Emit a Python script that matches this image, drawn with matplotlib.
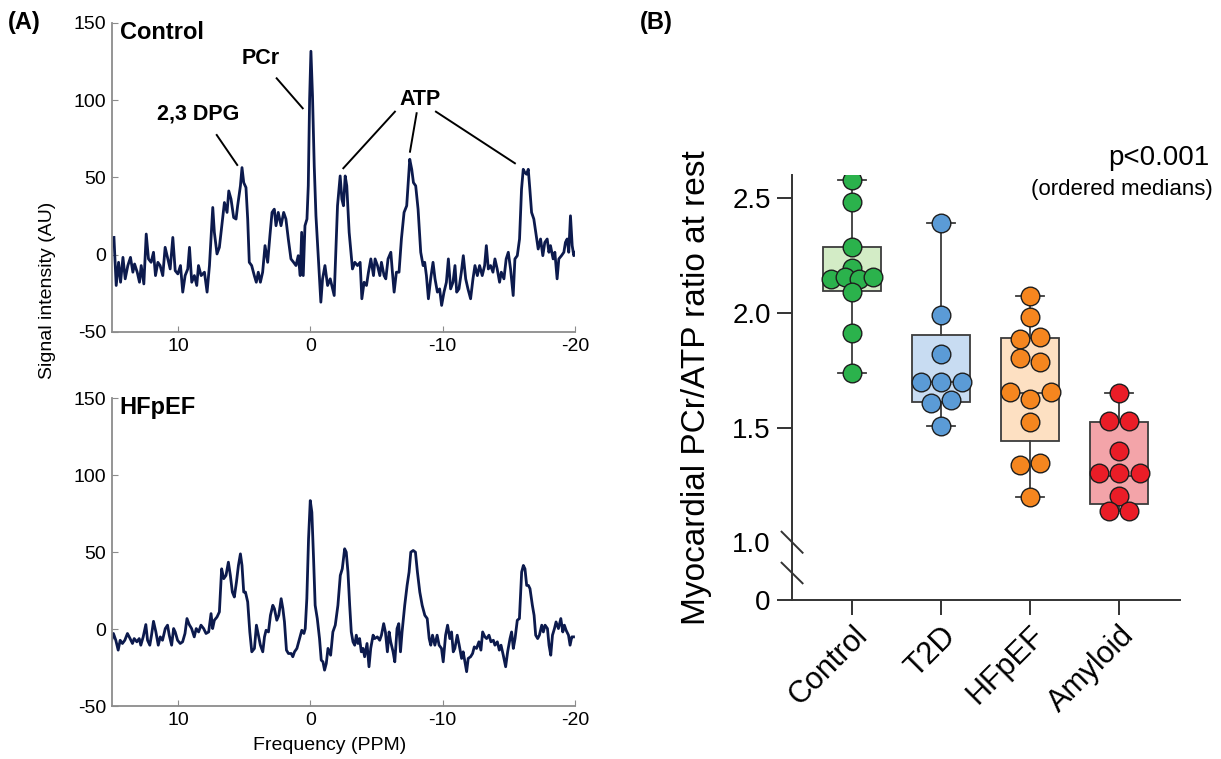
import numpy as np
import matplotlib.pyplot as plt

plt.rcParams['font.family'] = ['Liberation Sans', 'DejaVu Sans']
plt.rcParams['axes.unicode_minus'] = False

# ---- (A) 31P spectra ----
ctrl_ppm = [14.85, 14.68, 14.50, 14.35, 14.17, 14.00, 13.80, 13.60, 13.42, 13.29,
            13.09, 12.92, 12.79, 12.59, 12.41, 12.24, 12.04, 11.86, 11.71, 11.53,
            11.36, 11.16, 10.98, 10.78, 10.60, 10.40, 10.22, 10.02, 9.82, 9.65,
            9.47, 9.27, 9.14, 8.97, 8.77, 8.59, 8.46, 8.26, 8.01, 7.81,
            7.63, 7.38, 7.26, 7.06, 6.88, 6.70, 6.50, 6.30, 6.17, 6.00,
            5.80, 5.62, 5.50, 5.29, 5.17, 5.04, 4.87, 4.74, 4.62, 4.44,
            4.24, 4.09, 3.94, 3.78, 3.61, 3.43, 3.23, 3.06, 2.90, 2.73,
            2.60, 2.43, 2.22, 2.02, 1.85, 1.67, 1.47, 1.27, 1.09, 0.92,
            0.77, 0.66, 0.54, 0.41, 0.26, 0.16, 0.06, -0.04, -0.16, -0.29,
            -0.42, -0.59, -0.79, -0.92, -1.10, -1.30, -1.50,
            -1.80, -2.05, -2.25, -2.38, -2.50, -2.63, -2.75, -2.93, -3.18, -3.36,
            -3.56, -3.76, -3.89, -4.06, -4.24, -4.39, -4.57, -4.77, -4.89, -5.07,
            -5.25, -5.37, -5.57, -5.70, -5.87, -6.08, -6.20, -6.33, -6.50, -6.70,
            -6.88, -7.08, -7.28, -7.41, -7.51, -7.66, -7.79, -7.96, -8.14, -8.34,
            -8.52, -8.64, -8.77, -8.92, -9.09, -9.27, -9.42, -9.60, -9.77, -9.92,
            -10.10, -10.28, -10.43, -10.60, -10.78, -10.93, -11.06, -11.23, -11.41, -11.56,
            -11.74, -11.91, -12.11, -12.29, -12.44, -12.62, -12.79, -12.99, -13.17, -13.30,
            -13.45, -13.62, -13.80, -13.95, -14.12, -14.30, -14.43, -14.63, -14.80, -14.96,
            -15.13, -15.33, -15.46, -15.64, -15.81, -15.96, -16.09, -16.21, -16.34, -16.47,
            -16.59, -16.72, -16.89, -17.07, -17.22, -17.40, -17.57, -17.72, -17.90, -18.03,
            -18.15, -18.35, -18.48, -18.65, -18.78, -18.98, -19.16, -19.28, -19.41, -19.53,
            -19.66, -19.79, -19.91, -20.04]
ctrl_au = [11.2, -19.9, -4.9, -17.8, -1.7, -15.6, -7.0, -1.7, -11.3, -6.0,
           -11.3, -17.8, -7.0, -18.9, 13.4, -2.7, -4.9, 1.6, -13.5, -4.9,
           -7.0, -13.5, 4.8, -2.7, -9.2, 11.2, -10.3, -12.4, -7.0, -24.2,
           -13.5, -9.2, 4.8, -17.8, -13.5, -19.9, -7.0, -13.5, -11.3, -24.2,
           -7.0, 30.6, 14.5, 0.5, 4.8, 18.8, 33.8, 27.4, 41.3, 36.0,
           24.1, 23.1, 31.7, 44.6, 56.4, 46.7, 43.5, 23.1, -4.9, -7.0,
           -13.5, -17.8, -11.3, -17.8, -11.3, 5.9, -4.9, 12.3, 27.4, 29.5,
           18.8, 27.4, 18.8, 27.4, 23.1, 10.2, -2.7, -4.9, -7.0, -0.6,
           -13.5, 14.5, -13.5, 18.8, 23.1, 44.6, 100.5, 131.7, 102.6, 57.5,
           25.2, -0.6, -30.7, -15.6, -7.0, -19.9, -15.6,
           -26.4, 31.7, 51.0, 36.0, 31.7, 51.0, 44.6, 14.5, -9.2, -4.9,
           -7.0, -4.9, -28.5, -17.8, -19.9, -11.3, -2.7, -13.5, -2.7, -7.0,
           -13.5, -4.9, -13.5, -15.6, -2.7, 1.6, -11.3, -24.2, -11.3, -11.3,
           10.2, 27.4, 31.7, 48.9, 61.8, 55.3, 46.7, 44.6, 29.5, 1.6,
           -7.0, -4.9, -13.5, -28.5, -15.6, -4.9, -15.6, -24.2, -22.1, -32.8,
           -24.2, -17.8, -2.7, -22.1, -17.8, -7.0, -24.2, -22.1, -11.3, -0.6,
           -15.6, -22.1, -28.5, -15.6, -7.0, -13.5, -7.0, -13.5, -7.0, 5.9,
           -9.2, -7.0, -11.3, -2.7, -9.2, -17.8, -11.3, -15.6, -2.7, 1.6,
           -9.2, -26.4, -2.7, -0.6, 10.2, 42.4, 55.3, 53.2, 52.1, 55.3,
           42.4, 27.4, 23.1, 12.3, 3.7, 10.2, -0.6, 8.0, 10.2, 1.6,
           5.9, -2.7, 1.6, -15.6, -2.7, -0.6, 1.6, 8.0, 10.2, 1.6,
           25.2, 5.9, -0.6, 1.6]

hfpef_ppm = [15.09, 14.89, 14.71, 14.53, 14.38, 14.21, 14.03, 13.83, 13.63, 13.45,
             13.32, 13.12, 12.94, 12.82, 12.64, 12.44, 12.31, 12.14, 12.01, 11.86,
             11.68, 11.50, 11.35, 11.18, 10.97, 10.80, 10.67, 10.49, 10.34, 10.22,
             10.04, 9.84, 9.66, 9.48, 9.33, 9.16, 8.98, 8.78, 8.63, 8.45,
             8.27, 8.07, 7.89, 7.69, 7.51, 7.39, 7.26, 7.06, 6.88, 6.71,
             6.55, 6.38, 6.20, 6.05, 5.90, 5.75, 5.59, 5.44, 5.29, 5.17,
             5.04, 4.91, 4.74, 4.58, 4.43, 4.23, 4.08, 3.98, 3.78, 3.60,
             3.47, 3.35, 3.17, 3.02, 2.84, 2.72, 2.54, 2.39, 2.21, 2.08,
             1.96, 1.81, 1.66, 1.45, 1.33, 1.20, 1.02, 0.82, 0.65, 0.49,
             0.39, 0.27, 0.14, 0.01, -0.11, -0.24, -0.36, -0.52, -0.69, -0.82,
             -0.95, -1.07, -1.20,
             -1.33, -1.53, -1.70, -1.88, -2.08, -2.26, -2.41, -2.59, -2.71, -2.84,
             -2.97, -3.09, -3.22, -3.35, -3.47, -3.60, -3.72, -3.85, -3.98, -4.10,
             -4.28, -4.43, -4.56, -4.74, -4.86, -5.06, -5.24, -5.37, -5.54, -5.67,
             -5.82, -5.95, -6.07, -6.25, -6.38, -6.55, -6.68, -6.81, -6.93, -7.13,
             -7.31, -7.46, -7.59, -7.77, -7.94, -8.09, -8.27, -8.45, -8.65, -8.83,
             -8.98, -9.10, -9.23, -9.41, -9.58, -9.73, -9.91, -10.04, -10.22, -10.37,
             -10.54, -10.67, -10.80, -10.92, -11.10, -11.25, -11.43, -11.55, -11.68, -11.81,
             -11.93, -12.11, -12.26, -12.39, -12.56, -12.74, -12.89, -13.02, -13.19, -13.32,
             -13.50, -13.65, -13.83, -13.95, -14.13, -14.28, -14.41, -14.58, -14.76, -14.91,
             -15.09, -15.21, -15.34, -15.47, -15.64, -15.80, -15.97, -16.10, -16.22, -16.35,
             -16.48, -16.60, -16.78, -16.91, -17.03, -17.18, -17.31, -17.49, -17.61, -17.74,
             -17.92, -18.04, -18.17, -18.30, -18.45, -18.57, -18.75, -18.93, -19.08, -19.20,
             -19.33, -19.51, -19.63, -19.76, -19.89]
hfpef_au = [-9.4, -2.9, -7.3, -13.7, -7.3, -9.4, -7.3, -2.9, -6.2, -9.4,
            -6.2, -8.3, -6.2, -10.5, -5.1, 2.9, -7.3, -10.5, -4.0, 5.0,
            -1.9, -10.5, -5.1, -7.3, 0.3, 2.5, -4.0, -10.5, 0.3, -1.9,
            -7.3, -9.4, -8.3, -2.9, 6.8, 2.9, 0.3, -5.1, 0.3, -1.9,
            2.5, 0.3, -2.9, -1.9, 10.0, 0.3, 5.7, 7.8, 11.1, 39.1,
            32.7, 34.8, 43.4, 34.8, 24.0, 20.8, 30.5, 41.3, 48.8, 41.3,
            24.0, 24.0, 17.6, -1.9, -14.8, -12.6, 2.5, -1.9, -10.5, -14.8,
            -5.1, -0.8, -1.9, 8.9, 15.4, 13.2, 5.7, 8.9, 19.7, 13.2,
            4.6, -13.7, -15.9, -15.9, -18.0, -14.8, -12.6, -6.2, -0.8, -2.9,
            0.3, 19.7, 58.6, 83.4, 75.8, 45.6, 15.4, 6.8, -6.2, -20.2,
            -21.3, -26.7, -22.4,
            -12.6, -17.0, -1.9, 2.5, 15.4, 34.8, 39.1, 52.1, 49.9, 37.0,
            15.4, -1.9, -8.3, -10.5, -4.0, -9.4, -6.2, -14.8, -12.6, -18.0,
            -9.4, -24.5, -12.6, -4.0, -6.2, -5.1, -7.3, -4.0, 3.5, -1.9,
            -14.8, -1.9, -8.3, -14.8, -21.3, 0.3, 3.5, -14.8, -1.9, 15.4,
            28.3, 37.0, 49.9, 51.0, 49.9, 37.0, 24.0, 15.4, 8.9, 6.8,
            -6.2, -10.5, -4.0, -10.5, -4.0, -10.5, -12.6, -21.3, -4.0, 2.5,
            -6.2, -1.9, -14.8, -12.6, -4.0, -10.5, -19.1, -14.8, -21.3, -27.7,
            -19.1, -18.0, -15.9, -11.6, -12.6, -8.3, -13.7, -1.9, -5.1, -6.2,
            -4.0, -8.3, -7.3, -10.5, -8.3, -13.7, -10.5, -17.0, -24.5, -14.8,
            -6.2, -1.9, -12.6, -6.2, 5.7, 6.8, 37.0, 41.3, 39.1, 28.3,
            28.3, 26.2, 15.4, 8.9, -4.0, -6.2, -4.0, 2.5, -1.9, 2.5,
            0.3, -10.5, -17.0, -4.0, 0.3, 4.6, 0.3, 6.8, -1.9, 2.5,
            -0.8, -4.0, -10.5, -5.1, -5.1]

# ---- (B) PCr/ATP ratio per group ----
groups = ["Control", "T2D", "HFpEF", "Amyloid"]
control_vals = [2.58, 2.486, 2.29, 2.195, 2.15, 2.155, 2.15, 2.155, 2.093, 1.912, 1.74]
t2d_vals = [2.394, 1.99, 1.822, 1.70, 1.70, 1.70, 1.606, 1.62, 1.505]
hfpef_vals = [2.075, 1.983, 1.887, 1.895, 1.804, 1.786, 1.655, 1.626, 1.655,
              1.525, 1.335, 1.345, 1.198]
amyloid_vals = [1.652, 1.53, 1.53, 1.40, 1.30, 1.30, 1.30, 1.20, 1.135, 1.135]

box_med = [2.15, 1.70, 1.65, 1.287]
box_q1 = [2.095, 1.613, 1.44, 1.167]
box_q3 = [2.29, 1.905, 1.889, 1.526]
whis_lo = [1.74, 1.505, 1.198, 1.135]
whis_hi = [2.58, 2.394, 2.075, 1.652]

fill_colors = ['#d3ecc6', '#c8dcf2', '#fde0c2', '#f3a4a9']
dot_colors = ['#2bb24c', '#5b9bd6', '#f5861f', '#ea1d27']
LINE = '#0c1a4d'


def row_offsets(vals, thr, gap):
    """spread near-equal values side by side, centred on the group"""
    vals = np.asarray(vals, float)
    order = np.argsort(vals, kind='stable')
    offs = np.zeros(len(vals))
    rows, row = [], [order[0]]
    for i in order[1:]:
        if vals[i] - vals[row[0]] <= thr:
            row.append(i)
        else:
            rows.append(row)
            row = [i]
    rows.append(row)
    for r in rows:
        r = sorted(r)
        for j, i in enumerate(r):
            offs[i] = (j - (len(r) - 1) / 2) * gap
    return offs


def squash(y):
    y = np.asarray(y, float)
    return np.where(y >= 1, y, 1 - (1 - y) * 0.252)


def unsquash(t):
    t = np.asarray(t, float)
    return np.where(t >= 1, t, 1 - (1 - t) / 0.252)


fig = plt.figure(figsize=(12.21, 7.59), dpi=100)

ax1 = fig.add_axes([0.0917, 0.5626, 0.3792, 0.4071])
ax2 = fig.add_axes([0.0917, 0.0698, 0.3792, 0.4058])

for ax, ppm, au, name in [(ax1, ctrl_ppm, ctrl_au, "Control"),
                          (ax2, hfpef_ppm, hfpef_au, "HFpEF")]:
    ax.plot(ppm, au, color=LINE, lw=2.0)
    ax.set_xlim(15, -20)
    ax.set_ylim(-50, 150)
    ax.set_xticks([10, 0, -10, -20])
    ax.set_yticks([-50, 0, 50, 100, 150])
    for s in ['top', 'right']:
        ax.spines[s].set_visible(False)
    for s in ['left', 'bottom']:
        ax.spines[s].set_color('#8c8c8c')
        ax.spines[s].set_linewidth(1.3)
    ax.tick_params(direction='in', length=4, color='#8c8c8c', labelsize=14, pad=4)
    ax.text(0.017, 0.97, name, transform=ax.transAxes, fontsize=17,
            fontweight='bold', va='center', ha='left')

# peak labels on the control spectrum
lab = dict(fontsize=15.5, fontweight='bold', ha='center', va='center')
ax1.text(3.73, 126.7, "PCr", **lab)
ax1.text(8.5, 91.1, "2,3 DPG", **lab)
ax1.text(-8.28, 100.8, "ATP", **lab)
for (x0, y0), (x1, y1) in [((2.55, 114.2), (0.58, 94.8)),
                           ((7.08, 77.5), (5.53, 58.1)),
                           ((-6.39, 92.6), (-2.49, 56.0)),
                           ((-8.03, 91.6), (-7.53, 66.7)),
                           ((-9.49, 92.6), (-15.46, 59.2))]:
    ax1.plot([x0, x1], [y0, y1], color='black', lw=1.4)

fig.text(48 / 1221, 1 - 290 / 759, "Signal intensity (AU)", rotation=90,
         fontsize=14, ha='center', va='center')
fig.text(330 / 1221, 1 - 745 / 759, "Frequency (PPM)", fontsize=14,
         ha='center', va='center')
fig.text(8 / 1221, 1 - 22 / 759, "(A)", fontsize=17, fontweight='bold', va='center')
fig.text(640 / 1221, 1 - 22 / 759, "(B)", fontsize=17, fontweight='bold', va='center')

# ---- panel B ----
ax3 = fig.add_axes([0.6484, 0.2095, 0.318, 0.5602])
ax3.set_yscale('function', functions=(squash, unsquash))
ax3.set_xlim(-0.678, 3.685)
ax3.set_ylim(0, 2.603)

stats = []
for i in range(4):
    stats.append(dict(med=box_med[i], q1=box_q1[i], q3=box_q3[i],
                      whislo=whis_lo[i], whishi=whis_hi[i], fliers=[]))
edge = '#3c3c3c'
bp = ax3.bxp(stats, positions=range(4), widths=0.66, capwidths=0.31,
             patch_artist=True, showfliers=False,
             boxprops=dict(edgecolor=edge, linewidth=1.3),
             medianprops=dict(color=edge, linewidth=1.3),
             whiskerprops=dict(color=edge, linewidth=1.3),
             capprops=dict(color=edge, linewidth=1.3))
for patch, c in zip(bp['boxes'], fill_colors):
    patch.set_facecolor(c)

px = 1 / 89.0
all_vals = [control_vals, t2d_vals, hfpef_vals, amyloid_vals]
gaps = [14 * px, 20.5 * px, 20.5 * px, 20.5 * px]
for i, vals in enumerate(all_vals):
    xs = i + row_offsets(vals, 0.03, gaps[i])
    ax3.scatter(xs, vals, s=180, color=dot_colors[i], edgecolor='#1e1e1e',
                linewidth=1.0, zorder=3)

for s in ['top', 'right']:
    ax3.spines[s].set_visible(False)
for s in ['left', 'bottom']:
    ax3.spines[s].set_color('#333333')
    ax3.spines[s].set_linewidth(1.4)

ax3.set_yticks([0, 1.0, 1.5, 2.0, 2.5])
ax3.set_yticklabels(['0', '1.0', '1.5', '2.0', '2.5'])
ax3.yaxis.get_major_ticks()[1].tick1line.set_visible(False)
ax3.yaxis.set_minor_locator(plt.NullLocator())
ax3.set_xticks(range(4))
ax3.set_xticklabels(groups, rotation=45, ha='right', va='top',
                    rotation_mode='anchor', fontsize=22)
ax3.tick_params(axis='both', direction='out', length=11, width=1.4,
                color='#333333', pad=4)
ax3.tick_params(axis='y', labelsize=20)

# axis break marks
for y0, y1 in [(0.1606, 0.1112), (0.0877, 0.0393)]:
    ax3.plot([-0.026, 0.028], [y0, y1], transform=ax3.transAxes, color='#333333',
             lw=1.4, clip_on=False)

ax3.set_ylabel("Myocardial PCr/ATP ratio at rest", fontsize=24)
ax3.yaxis.set_label_coords(-0.205, 0.5)

ax3.text(1.075, 1.04, "p<0.001", transform=ax3.transAxes, fontsize=20,
         ha='right', va='center')
ax3.text(1.085, 0.966, "(ordered medians)", transform=ax3.transAxes, fontsize=16,
         ha='right', va='center')

fig.savefig("out.png", dpi=100)
